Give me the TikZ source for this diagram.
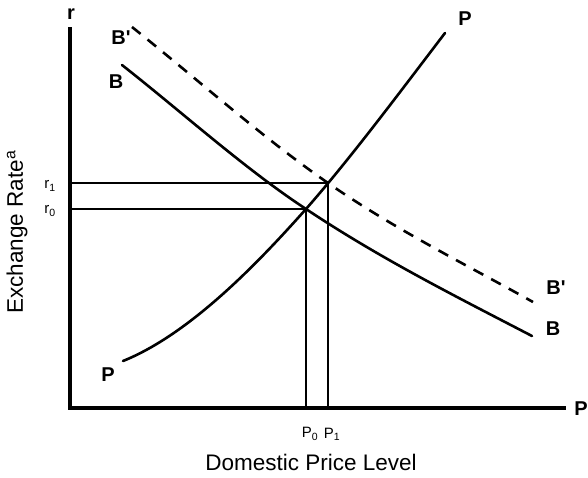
\documentclass[tikz,border=0pt]{standalone}
\usepackage{fontspec}
\setmainfont{Liberation Sans}
\begin{document}
\begin{tikzpicture}[x=1pt,y=-1pt,
  axis/.style={line width=3.4pt},
  curve/.style={line width=2.6pt, line cap=round},
  guide/.style={line width=2.4pt},
  lbl/.style={font=\fontsize{20}{20}\selectfont\bfseries, inner sep=0pt},
  small/.style={font=\fontsize{15}{15}\selectfont, inner sep=0pt},
  title/.style={font=\fontsize{22.5}{22.5}\selectfont, inner sep=0pt}]
\useasboundingbox (0,0) rectangle (588,477);
% axes
\coordinate (Ytop) at (70,27);
\coordinate (O) at (70,408);
\coordinate (Xend) at (566,408);
\draw[axis] (Ytop) -- (O) -- (Xend);
% equilibria and guides
\coordinate (E0) at (306,209);
\coordinate (E1) at (328,183);
\coordinate (R0) at (70,209);
\coordinate (R1) at (70,183);
\coordinate (X0) at (306,408);
\coordinate (X1) at (328,408);
\draw[guide] (R1) -- (E1) -- (X1);
\draw[guide] (R0) -- (E0) -- (X0);
% B curve
\coordinate (Bs) at (122,65);
\coordinate (Be) at (532,336);
\draw[curve] (Bs) .. controls (183,113) and (245,169) .. (E0)
  .. controls (381,259) and (457,297) .. (Be);
% B' curve (dashed)
\coordinate (BPs) at (132,27);
\coordinate (BPe) at (533,302);
\draw[curve, line cap=butt, dash pattern=on 11pt off 9pt] (BPs) .. controls (197,79) and (263,138) .. (E1)
  .. controls (396,230) and (465,264) .. (BPe);
% P curve
\coordinate (Ps) at (123,361);
\coordinate (Pe) at (445,33);
\draw[curve] (Ps) .. controls (190,334) and (258,263) .. (E0)
  .. controls (350,159) and (400,92) .. (Pe);
% labels
\node[lbl] (lr) at (71,14) {r};
\node[lbl] (lPax) at (581,409) {P};
\node[lbl] (lBPl) at (121,38) {B\textquotesingle};
\node[lbl] (lBl) at (116,82) {B};
\node[lbl] (lBPr) at (556,288) {B\textquotesingle};
\node[lbl] (lBr) at (553,329) {B};
\node[lbl] (lPl) at (108,375) {P};
\node[lbl] (lPt) at (465,19) {P};
\node[small] (lr1) at (50,186) {r\textsubscript{1}};
\node[small] (lr0) at (50,211) {r\textsubscript{0}};
\node[small] (lP0) at (310,434) {P\textsubscript{0}};
\node[small] (lP1) at (332,434) {P\textsubscript{1}};
\node[title] (xlab) at (311,462) {Domestic Price Level};
\node[title, rotate=90] (ylab) at (17,232) {Exchange Rate\textsuperscript{a}};
\end{tikzpicture}
\end{document}
